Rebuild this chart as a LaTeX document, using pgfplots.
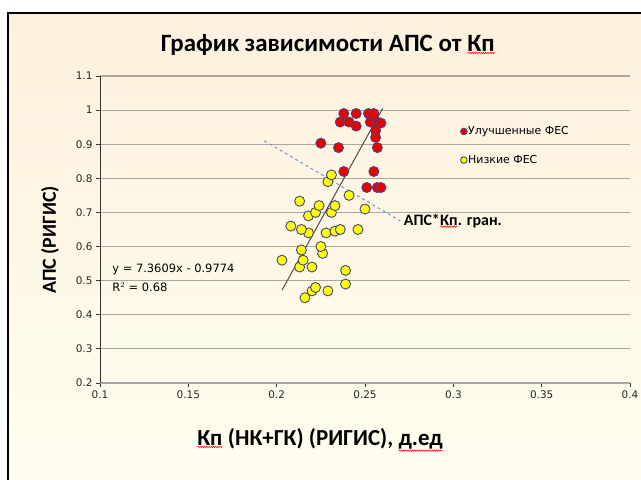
\documentclass[border=0pt]{standalone}
\usepackage{pgfplots}
\pgfplotsset{compat=1.18}
\usepackage{pgfplotstable}
\usepackage{fontspec}
\setmainfont{DejaVu Sans}
\newfontfamily\headfont{Carlito}
\usetikzlibrary{decorations.pathmorphing}

\definecolor{bgtop}{RGB}{253,240,222}
\definecolor{bgbot}{RGB}{255,254,238}
\definecolor{gridc}{RGB}{172,166,160}
\definecolor{edgec}{RGB}{70,70,130}
\definecolor{dashc}{RGB}{110,150,205}
\definecolor{goodc}{RGB}{235,0,0}
\definecolor{lowc}{RGB}{255,255,0}

% spell-checker style wavy underline
\newcommand\spell[1]{\tikz[baseline=(s.base)]{\node[inner sep=0pt, outer sep=0pt](s){#1};%
  \draw[red, line width=0.5bp, decorate, decoration={snake, amplitude=0.7bp, segment length=2.2bp}]
  ([yshift=-1.5bp]s.south west) -- ([yshift=-1.5bp]s.south east);}}

% improved reservoir properties
\pgfplotstableread{
x y
0.238 0.990
0.245 0.990
0.236 0.965
0.241 0.965
0.245 0.953
0.252 0.990
0.255 0.990
0.253 0.965
0.257 0.965
0.259 0.962
0.256 0.940
0.256 0.920
0.257 0.890
0.235 0.890
0.225 0.903
0.238 0.820
0.255 0.820
0.251 0.773
0.257 0.773
0.259 0.773
}\goodtab

% low reservoir properties
\pgfplotstableread{
x y
0.203 0.560
0.208 0.660
0.213 0.733
0.218 0.690
0.222 0.700
0.224 0.720
0.214 0.590
0.213 0.540
0.215 0.560
0.220 0.540
0.218 0.640
0.214 0.650
0.216 0.450
0.220 0.470
0.222 0.480
0.229 0.470
0.226 0.580
0.225 0.600
0.228 0.640
0.233 0.645
0.236 0.650
0.229 0.790
0.231 0.810
0.231 0.700
0.233 0.720
0.241 0.750
0.246 0.650
0.250 0.710
0.239 0.530
0.239 0.490
}\lowtab

\begin{document}
\begin{tikzpicture}[x=1bp,y=1bp]
\useasboundingbox (0,0) rectangle (641,480);
\fill[white] (0,0) rectangle (641,480);
\shade[top color=bgtop, bottom color=bgbot] (8,0) rectangle (641,467);
\draw[line width=2bp] (8,0) -- (8,467) -- (641,467);

\node[font=\headfont\bfseries\fontsize{25}{28}\selectfont] at (328,435) {График зависимости АПС от \spell{Кп}};
\node[font=\headfont\bfseries\fontsize{23}{26}\selectfont] at (320,40) {\spell{Кп} (НК+ГК) (РИГИС), \spell{д.ед}};
\node[font=\headfont\bfseries\fontsize{20}{24}\selectfont, rotate=90] at (50,240) {АПС (РИГИС)};

\begin{axis}[
  at={(100bp,97bp)}, anchor=south west,
  width=530bp, height=307bp, scale only axis,
  xmin=0.1, xmax=0.4, ymin=0.2, ymax=1.1,
  axis lines*=left,
  x axis line style={gridc, line width=1.2bp},
  y axis line style={black!80, line width=1bp},
  xtick={0.1,0.15,0.2,0.25,0.3,0.35,0.4},
  xticklabels={0.1,0.15,0.2,0.25,0.3,0.35,0.4},
  ytick={0.2,0.3,0.4,0.5,0.6,0.7,0.8,0.9,1.0,1.1},
  yticklabels={0.2,0.3,0.4,0.5,0.6,0.7,0.8,0.9,1,1.1},
  tick align=outside, major tick length=4bp,
  tick style={black!80, line width=0.8bp},
  ticklabel style={font=\fontsize{10.5}{12}\selectfont, black!85},
  ymajorgrids, grid style={gridc, line width=1.2bp},
  clip=false,
  legend style={draw=none, fill=none, at={(axis cs:0.304,0.955)}, anchor=north west,
    font=\fontsize{11}{13}\selectfont, row sep=17bp, inner sep=0pt,
    nodes={inner sep=1pt}},
  legend image post style={mark size=3.3bp},
  legend cell align=left,
]
% trend line
\addplot[black!70, line width=1bp, forget plot] coordinates {(0.203,0.472) (0.260,1.005)};
% boundary of the porosity-saturation product
\addplot[dashc, dashed, line width=1bp, forget plot] coordinates {(0.193,0.910) (0.270,0.675)};

\addplot[only marks, mark=*, mark size=5bp, mark options={fill=goodc, draw=edgec, line width=0.9bp}]
  table[x=x, y=y] {\goodtab};
\addplot[only marks, mark=*, mark size=5bp, mark options={fill=lowc, draw=edgec, line width=0.9bp}]
  table[x=x, y=y] {\lowtab};
\legend{Улучшенные ФЕС, Низкие ФЕС}

\node[anchor=west, font=\fontsize{11.5}{13}\selectfont] at (axis cs:0.105,0.532) {y = 7.3609x - 0.9774};
\node[anchor=west, font=\fontsize{11.5}{13}\selectfont] at (axis cs:0.105,0.482) {R$^{2}$ = 0.68};
\node[anchor=west, font=\headfont\bfseries\fontsize{16}{18}\selectfont] at (axis cs:0.270,0.676) {АПС*\spell{Кп}. гран.};
\end{axis}
\end{tikzpicture}
\end{document}
